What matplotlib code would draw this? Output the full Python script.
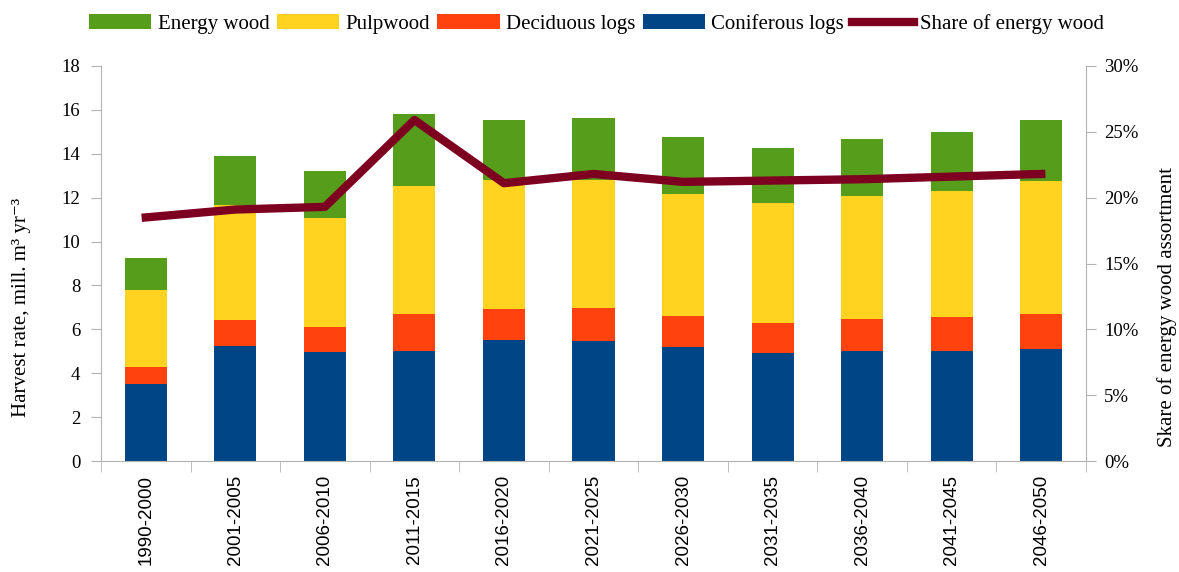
import numpy as np
import matplotlib.pyplot as plt
from matplotlib.ticker import PercentFormatter, FixedLocator

periods = ['1990-2000', '2001-2005', '2006-2010', '2011-2015', '2016-2020', '2021-2025',
           '2026-2030', '2031-2035', '2036-2040', '2041-2045', '2046-2050']
coniferous = [3.51, 5.24, 4.97, 5.01, 5.51, 5.47, 5.20, 4.92, 5.01, 5.01, 5.10]
deciduous = [0.77, 1.19, 1.14, 1.69, 1.42, 1.50, 1.41, 1.37, 1.46, 1.55, 1.60]
pulpwood = [3.51, 5.22, 4.97, 5.83, 5.88, 5.84, 5.56, 5.47, 5.61, 5.75, 6.06]
energy = [1.46, 2.25, 2.14, 3.29, 2.73, 2.82, 2.60, 2.51, 2.60, 2.69, 2.78]
share = [18.5, 19.1, 19.3, 25.9, 21.1, 21.8, 21.2, 21.3, 21.4, 21.6, 21.8]

c_con = '#004586'
c_dec = '#ff420e'
c_pulp = '#ffd320'
c_en = '#579d1c'
c_line = '#7e0021'
gray = '#b3b3b3'
serif = ['Liberation Serif', 'DejaVu Serif']
sans = ['Liberation Sans', 'DejaVu Sans']

plt.rcParams['font.family'] = serif
plt.rcParams['font.size'] = 13

fig = plt.figure(figsize=(11.79, 5.72), dpi=100)
ax = fig.add_axes([101 / 1179, 1 - 461 / 572, 985 / 1179, 395 / 572])

x = np.arange(len(periods))
w = 0.47
b1 = np.array(coniferous)
b2 = b1 + np.array(deciduous)
b3 = b2 + np.array(pulpwood)
ax.bar(x, coniferous, w, color=c_con, label='Coniferous logs', zorder=2)
ax.bar(x, deciduous, w, bottom=b1, color=c_dec, label='Deciduous logs', zorder=2)
ax.bar(x, pulpwood, w, bottom=b2, color=c_pulp, label='Pulpwood', zorder=2)
ax.bar(x, energy, w, bottom=b3, color=c_en, label='Energy wood', zorder=2)

ax.set_xlim(-0.5, len(periods) - 0.5)
ax.set_ylim(0, 18)
ax.set_yticks(range(0, 19, 2))
ax.set_xticks(x)
ax.set_xticklabels(periods, rotation=90, family=sans, fontsize=13.5)
ax.tick_params(axis='x', length=0, pad=10)
ax.xaxis.set_minor_locator(FixedLocator(np.arange(-0.5, len(periods), 1.0)))
ax.tick_params(axis='x', which='minor', length=8, color=gray, direction='out')
ax.tick_params(axis='y', length=7, color=gray, direction='out', pad=8, labelsize=13.5)
ax.set_ylabel('Harvest rate, mill. m³ yr⁻³', fontsize=15)
ax.yaxis.set_label_coords(-0.071, 0.39)
for s in ['top', 'right']:
    ax.spines[s].set_visible(False)
for s in ['left', 'bottom']:
    ax.spines[s].set_color(gray)

ax2 = ax.twinx()
ax2.plot(x, share, color=c_line, lw=6, label='Share of energy wood', zorder=3)
ax2.set_ylim(0, 30)
ax2.set_yticks(range(0, 31, 5))
ax2.yaxis.set_major_formatter(PercentFormatter(decimals=0))
ax2.tick_params(axis='y', length=7, color=gray, direction='out', pad=6, labelsize=13.5)
ax2.set_ylabel('Skare of energy wood assortment', fontsize=15)
ax2.yaxis.set_label_coords(1.072, 0.39)
for s in ['top', 'left', 'bottom']:
    ax2.spines[s].set_visible(False)
ax2.spines['right'].set_color(gray)

h1, l1 = ax.get_legend_handles_labels()
h2, l2 = ax2.get_legend_handles_labels()
order = [3, 2, 1, 0]
handles = [h1[i] for i in order] + h2
labels = [l1[i] for i in order] + l2
fig.legend(handles, labels, loc='center', bbox_to_anchor=(0.506, 0.958), ncol=5,
           frameon=False, fontsize=15, handlelength=3.0, handleheight=0.7,
           handletextpad=0.3, columnspacing=0.35, borderaxespad=0)

fig.savefig('out.png', dpi=100)
